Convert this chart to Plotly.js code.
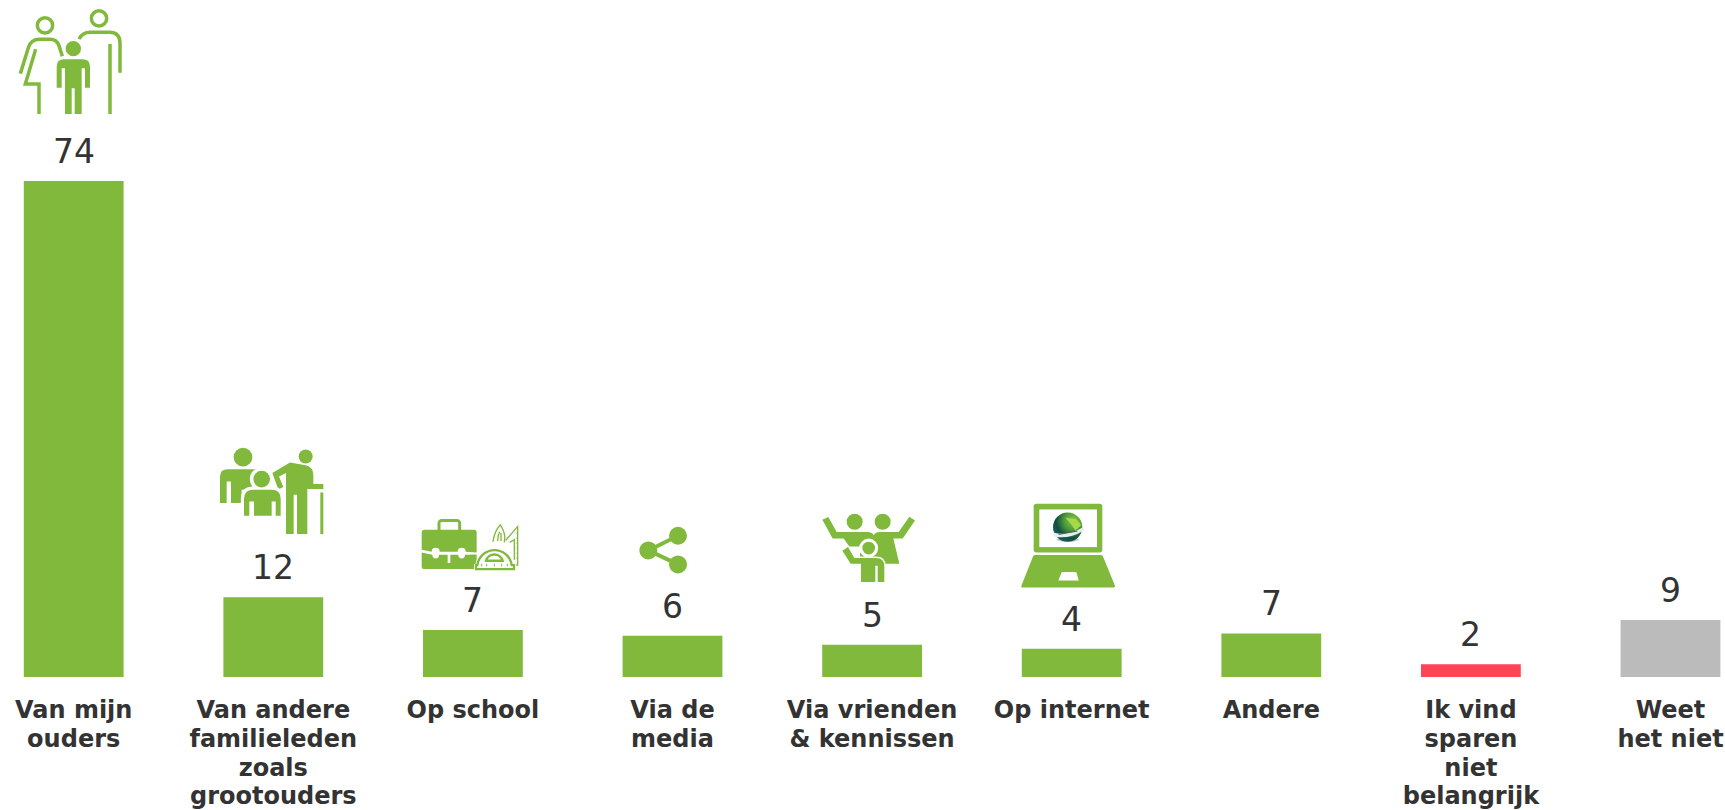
<!DOCTYPE html>
<html>
<head>
<meta charset="utf-8">
<script src="https://cdn.plot.ly/plotly-3.0.1.min.js"></script>
<style>html,body{margin:0;padding:0;background:#fff}#chart{width:1725px;height:810px}</style>
</head>
<body>
<div id="chart"></div>
<script>
const categories = ["Van mijn<br>ouders","Van andere<br>familieleden<br>zoals<br>grootouders","Op school","Via de<br>media","Via vrienden<br>& kennissen","Op internet","Andere","Ik vind<br>sparen<br>niet<br>belangrijk","Weet<br>het niet"];
const barValues = [74, 11.9, 7, 6.15, 4.8, 4.2, 6.5, 1.9, 8.5];
const valueLabels = ["74","12","7","6","5","4","7","2","9"];
const barColors = ["#80b93c","#80b93c","#80b93c","#80b93c","#80b93c","#80b93c","#80b93c","#ff4458","#bbbbbb"];

const W = 1725, H = 810, BASE = 677.3, STEP = 199.6, FIRST = 73.7;
const G = "#80b93c";
const FONT = "DejaVu Sans, Verdana, sans-serif";

// Icons are drawn in 3x pixel space: origin (ox,oy) of the page, tight view box (vx,vy,vw,vh).
function icon(ox, oy, vx, vy, vw, vh, body) {
  const svg = `<svg xmlns="http://www.w3.org/2000/svg" width="${vw}" height="${vh}" viewBox="${vx} ${vy} ${vw} ${vh}">${body}</svg>`;
  return {
    source: "data:image/svg+xml;charset=utf-8," + encodeURIComponent(svg),
    xref: "paper", yref: "paper", layer: "above", sizing: "stretch",
    x: (ox + vx / 3) / W, y: (BASE - (oy + vy / 3)) / BASE,
    sizex: (vw / 3) / W, sizey: (vh / 3) / BASE,
    xanchor: "left", yanchor: "top"
  };
}

const parents = `
<g fill="none" stroke="${G}" stroke-width="10.5">
<circle cx="135" cy="76" r="23"/><circle cx="297" cy="55" r="23"/>
<path d="M61 221 L85 143 Q93 118 118 118 H150 Q170 118 177 137 L187 169"/>
<path d="M107 148 L76 252 H117 V342"/>
<path d="M237 117 Q248 97 270 97 H328 Q360 97 360 130 V218"/>
<path d="M330 132 V342"/>
</g>
<g fill="${G}"><circle cx="220" cy="146" r="23"/>
<path d="M170 200 Q170 178 192 178 H248 Q270 178 270 200 V263 H255 V205 H245 V342 H224 V265 H215 V342 H195 V205 H185 V263 H170Z"/></g>`;

const elders = `
<g fill="${G}"><circle cx="84" cy="52" r="28"/><circle cx="272" cy="50" r="21"/>
<path d="M15 190 V110 Q15 88 38 88 H125 V150 H80 V190 H48 V125 H35 V190Z"/>
<path d="M172 100 L225 68 L272 76 Q295 82 295 105 V133 H325 V148 H277 V283 H246 V165 H236 V283 H213 V100 L192 110 L205 142 L190 149Z"/>
<rect x="316" y="158" width="9" height="125"/></g>
<g fill="#fff" stroke="#fff" stroke-width="9">
<circle cx="140" cy="118" r="31"/>
<path d="M82 233 V178 Q82 145 115 145 H170 Q202 145 202 178 V233Z"/></g>
<path fill="${G}" d="M87 228 V178 Q87 150 115 150 H170 Q197 150 197 178 V228 H182 V185 H170 V228 H117 V185 H103 V228Z"/>
<circle cx="140" cy="118" r="25" fill="${G}"/>`;

const school = `
<rect x="72" y="32" width="62" height="36" rx="8" fill="none" stroke="${G}" stroke-width="9"/>
<path fill="${G}" d="M28 60 H177 Q185 60 185 68 V128 L152 126 A12 12 0 0 0 128 126 H74 A12 12 0 0 0 50 126 L20 120 V68 Q20 60 28 60Z"/>
<path fill="${G}" d="M20 128 L52 135 A10 11 0 0 0 72 135 H98 V160 H106 V135 H130 A10 11 0 0 0 150 135 L185 134 V178 H28 Q20 178 20 170Z"/>
<g fill="none" stroke="${G}" stroke-width="4">
<path d="M234 96 Q238 65 256 45 Q274 72 268 98"/><path d="M248 94 Q248 78 254 66"/><path d="M258 94 V70"/>
<path d="M272 92 L308 50 V166 H296"/><path d="M284 98 L298 90 V150"/>
</g>
<path stroke="${G}" stroke-width="2" d="M302 70 H308 M302 85 H308 M302 100 H308 M302 115 H308 M302 130 H308 M302 145 H308"/>
<path fill="#fff" stroke="#fff" stroke-width="6" d="M180 181 V166 H184 A55 55 0 0 1 293 166 H300 V181Z"/>
<path fill="#fff" stroke="${G}" stroke-width="7" d="M183 178 V166 H187 A52 52 0 0 1 290 166 H297 V178Z"/>
<path fill="none" stroke="${G}" stroke-width="7" d="M213 153 A26 26 0 0 1 263 153 Z"/>
<path stroke="${G}" stroke-width="3" d="M200 162 V170 M215 162 V170 M238 162 V170 M260 162 V170 M277 162 V170"/>`;

const share = `
<path d="M115 182 L204 138 M115 182 L204 224" stroke="${G}" stroke-width="12" fill="none"/>
<g fill="${G}"><circle cx="115" cy="182" r="27"/><circle cx="204" cy="138" r="27"/><circle cx="204" cy="224" r="27"/></g>`;

const friends = `
<g fill="${G}"><circle cx="734" cy="96" r="24"/><circle cx="818" cy="96" r="24"/>
<path d="M637 90 L655 82 L680 127 H772 Q786 127 791 136 Q797 127 810 127 H866 L898 81 L915 92 L878 146 H850 L868 222 H750 V170 H718 L701 146 H668Z"/></g>
<g fill="#fff" stroke="#fff" stroke-width="9" stroke-linejoin="round">
<circle cx="776" cy="175" r="24"/>
<path d="M697 183 L714 172 L733 205 H798 Q823 205 823 230 V277 H753 V222 H722Z"/></g>
<path d="M697 183 L714 172 L733 205 H798 Q823 205 823 230 V277 H753 V222 H722Z" fill="${G}"/>
<circle cx="776" cy="175" r="19" fill="${G}"/>
<rect x="796" y="228" width="7" height="49" fill="#fff"/>`;

const laptop = `
<defs>
<radialGradient id="g" cx="0.7" cy="0.28" r="0.85"><stop offset="0" stop-color="#8fc83a"/><stop offset="0.38" stop-color="#4c9a3a"/><stop offset="0.7" stop-color="#0f4f40"/><stop offset="1" stop-color="#1b5f66"/></radialGradient>
<filter id="b" x="-20%" y="-20%" width="140%" height="140%"><feGaussianBlur stdDeviation="2"/></filter>
</defs>
<rect x="131" y="42" width="206" height="146" rx="8" fill="${G}"/>
<rect x="148" y="59" width="173" height="113" fill="#fff"/>
<g filter="url(#b)">
<ellipse cx="233" cy="150" rx="34" ry="6" fill="#c9d2d0"/>
<circle cx="233" cy="112" r="44" fill="url(#g)"/>
<path d="M226 84 L258 88 L274 106 L256 122 L244 104 Z" fill="#a6d84a"/>
<path d="M190 128 Q235 140 280 112 L282 122 Q235 150 192 140Z" fill="#e8ecec"/>
<path d="M206 134 L262 124" stroke="#4a5f58" stroke-width="3"/>
</g>
<path d="M136 196 H332 Q337 196 339 200 L375 288 Q376 293 371 293 H97 Q92 293 94 288 L129 200 Q131 196 136 196Z" fill="${G}"/>
<path d="M217 247 H256 Q259 247 260 250 L266 272 H205 L214 250 Q215 247 217 247Z" fill="#fff"/>`;

const images = [
  icon(0, 0, 50, 20, 325, 330, parents),
  icon(215, 440, 5, 15, 330, 275, elders),
  icon(415, 510, 15, 20, 300, 165, school),
  icon(610, 490, 80, 105, 160, 155, share),
  icon(610, 490, 630, 65, 295, 220, friends),
  icon(990, 490, 85, 35, 300, 265, laptop)
];

const valueAnnotations = categories.map((c, i) => ({
  x: c, y: barValues[i], xref: "x", yref: "y",
  text: valueLabels[i], showarrow: false,
  xanchor: "center", yanchor: "bottom", yshift: 8,
  font: {family: FONT, size: 33, color: "#333333"}
}));

const trace = {
  type: "bar",
  x: categories,
  y: barValues,
  cliponaxis: false,
  hoverinfo: "x+y",
  marker: {color: barColors, line: {width: 0}}
};

const layout = {
  width: W, height: H,
  paper_bgcolor: "#ffffff", plot_bgcolor: "#ffffff",
  margin: {l: 0, r: 0, t: 0, b: H - BASE, pad: 0},
  bargap: 0.5,
  showlegend: false,
  xaxis: {
    type: "category",
    range: [-FIRST / STEP, (W - FIRST) / STEP],
    tickmode: "array",
    tickvals: categories,
    ticktext: categories,
    ticks: "", showline: false, showgrid: false, zeroline: false,
    tickangle: 0,
    automargin: false,
    ticklabelstandoff: 16,
    tickfont: {family: FONT, size: 24, weight: 700, color: "#333333"}
  },
  yaxis: {
    range: [0, 101],
    visible: false, showgrid: false, zeroline: false, fixedrange: true
  },
  annotations: valueAnnotations,
  images: images
};

Plotly.newPlot("chart", [trace], layout, {displayModeBar: false, staticPlot: true}).then(() => {
  // Reference line pitch for wrapped tick labels is about 28.8px rather than Plotly's 1.3em.
  document.querySelectorAll(".xtick text").forEach(t => {
    t.querySelectorAll("tspan.line").forEach((s, i) => s.setAttribute("dy", (i * 28.8 / 24) + "em"));
  });
});
</script>
</body>
</html>
